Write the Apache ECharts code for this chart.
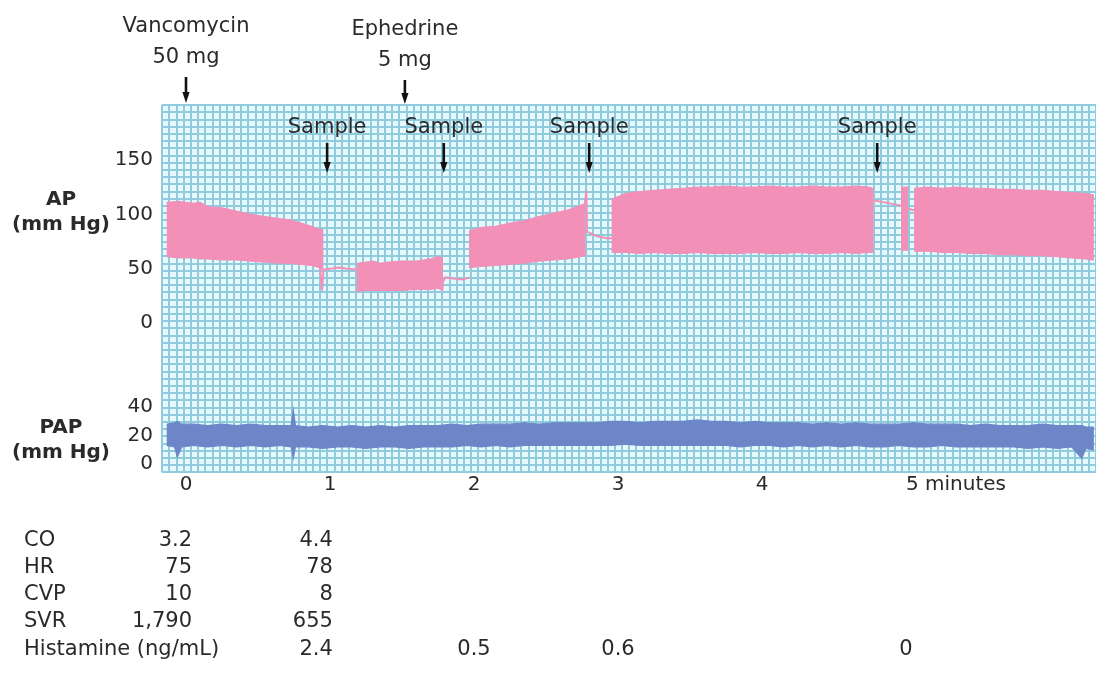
<!DOCTYPE html>
<html><head><meta charset="utf-8">
<script src="https://cdn.jsdelivr.net/npm/echarts@6/dist/echarts.min.js"></script>
<style>html,body{margin:0;padding:0;background:#fff}#c{width:1096px;height:675px}</style>
</head><body><div id="c"></div>
<script>
// ---------- DATA ----------
// Arterial pressure (AP) trace envelope segments: [minute, diastolic(low), systolic(high)]
const apSeg1 = [[-0.13,61,111],[-0.05,60,112],[0.05,60,110],[0.10,59,111],[0.15,59,107],[0.25,58,106],[0.35,58,103],[0.45,57,100],[0.55,56,98],[0.65,55,96],[0.72,55,95],[0.80,54,92],[0.87,53,89],[0.93,51,86],[0.95,49,86]];
const apSeg2 = [[1.19,29,55],[1.25,30,56],[1.30,30,57],[1.35,30,55],[1.40,30,56],[1.50,30,57],[1.60,31,57],[1.70,31,59],[1.75,32,61],[1.78,30,60]];
const apSeg3 = [[1.97,51,85],[2.05,52,88],[2.15,53,89],[2.25,54,92],[2.35,55,94],[2.45,57,98],[2.55,58,101],[2.65,59,104],[2.74,61,108],[2.77,62,110]];
const apSeg4 = [[2.96,65,114],[3.05,65,119],[3.15,64,121],[3.25,65,122],[3.35,64,123],[3.45,64,124],[3.55,65,125],[3.65,64,125],[3.75,64,126],[3.85,64,125],[3.95,65,125],[4.05,64,126],[4.15,64,125],[4.25,65,125],[4.35,64,126],[4.45,64,125],[4.55,65,125],[4.65,64,126],[4.74,65,125],[4.77,65,124]];
const apSeg5 = [[4.97,67,125],[5.01,67,125]];
const apSeg6 = [[5.06,66,124],[5.15,66,125],[5.25,65,124],[5.35,65,125],[5.45,64,124],[5.55,64,124],[5.65,63,123],[5.75,63,123],[5.85,62,122],[5.95,62,122],[6.05,61,121],[6.15,60,120],[6.25,59,119],[6.30,58,118]];
// Thin AP traces between sampling blocks: [minute, mmHg]
const apLink1 = [[0.93,52],[0.945,30],[0.955,49],[1.0,50],[1.06,51],[1.12,50],[1.19,49]];
const apLink2 = [[1.78,30],[1.785,38],[1.80,42],[1.85,41],[1.92,40],[1.97,42]];
const apLink3 = [[2.77,110],[2.78,122],[2.785,84],[2.85,80],[2.92,78],[2.96,78]];
const apLink4 = [[4.77,113],[4.85,111],[4.97,108]];
const apLink5 = [[5.01,106],[5.04,104],[5.06,104]];
// Pulmonary artery pressure (PAP) envelope: [minute, low, high]
const papTrace = [[-0.13,13,28],[-0.08,12,29],[-0.06,5,30],[-0.03,12,28],[0.05,13,28],[0.15,12,27],[0.25,13,28],[0.35,12,27],[0.45,13,28],[0.55,12,27],[0.65,13,27],[0.73,12,27],[0.745,4,38],[0.76,12,27],[0.85,12,26],[0.95,11,27],[1.05,12,26],[1.15,12,27],[1.25,11,26],[1.35,12,27],[1.45,12,26],[1.55,11,27],[1.65,12,27],[1.75,12,27],[1.85,12,28],[1.95,13,27],[2.05,12,28],[2.15,13,28],[2.25,12,28],[2.35,13,29],[2.45,13,28],[2.55,13,29],[2.65,13,29],[2.75,13,29],[2.85,13,29],[2.95,13,30],[3.05,14,30],[3.15,13,29],[3.25,13,30],[3.35,13,30],[3.45,13,30],[3.55,13,31],[3.65,13,30],[3.75,13,30],[3.85,12,29],[3.95,13,30],[4.05,13,29],[4.15,12,29],[4.25,13,29],[4.35,12,28],[4.45,13,29],[4.55,12,28],[4.65,13,29],[4.75,12,28],[4.85,12,28],[4.95,13,28],[5.05,12,29],[5.15,12,28],[5.25,13,28],[5.35,12,28],[5.45,12,27],[5.55,12,28],[5.65,12,27],[5.75,12,27],[5.85,11,27],[5.95,12,28],[6.05,11,27],[6.15,12,27],[6.22,4,27],[6.25,11,26],[6.30,10,26]];
// Ticks / labels
const xTicks = [0,1,2,3,4,5];
const xTickLabels = ['0','1','2','3','4','5 minutes'];
const apTicks = [0,50,100,150];
const papTicks = [0,20,40];
// Events
const drugNames = ['Vancomycin','Ephedrine'];
const drugDoses = ['50 mg','5 mg'];
const drugTimes = [0, 1.52];
const sampleLabel = 'Sample';
const sampleTimes = [0.98, 1.79, 2.80, 4.80];
// Table
const tableRows = ['CO','HR','CVP','SVR','Histamine (ng/mL)'];
const colBaseline = ['3.2','75','10','1,790',''];
const colAfter = ['4.4','78','8','655','2.4'];
const histamineLater = ['0.5','0.6','0'];
const histamineLaterTimes = [2, 3, 5];

// ---------- LAYOUT ----------
const FONT = 'DejaVu Sans';
const TXT = '#2a2a2a';
const PINK = '#f290b8';
const BLUE = '#6d86c8';
const X0 = 162, XW = 934;
const PX_PER_MIN = 144;
const xMin = (X0 - 186) / PX_PER_MIN;
const xMax = xMin + XW / PX_PER_MIN;

const chart = echarts.init(document.getElementById('c'), null, {renderer:'canvas'});

function band(points, idx, color) {
  return {
    type:'custom', xAxisIndex:idx, yAxisIndex:idx, data:points, silent:true, clip:true,
    encode:{x:0, y:[1,2]},
    renderItem:function(params, api){
      if (params.dataIndex !== 0) return null;
      const top = points.map(p => api.coord([p[0], p[2]]));
      const bot = points.map(p => api.coord([p[0], p[1]])).reverse();
      return {type:'polygon', shape:{points:top.concat(bot)}, style:{fill:color, stroke:color, lineWidth:1.2}};
    }
  };
}
function link(points) {
  return {type:'line', xAxisIndex:1, yAxisIndex:1, data:points, symbol:'none', silent:true,
    lineStyle:{color:PINK, width:2}};
}

const gridLine = {show:true, lineStyle:{color:'#8fcbdd', width:2}};
const option = {
  animation:false,
  backgroundColor:'#ffffff',
  grid:[
    {left:X0, top:105, width:936, height:367.2, show:true, backgroundColor:'#e6f9fd', borderWidth:0},
    {left:X0, top:116.5, width:XW, height:206.5, show:false},
    {left:X0, top:400, width:XW, height:64, show:false}
  ],
  xAxis:[
    {gridIndex:0, type:'value', min:0, max:130, interval:1, axisLine:{show:false}, axisTick:{show:false}, axisLabel:{show:false}, splitLine:gridLine},
    {gridIndex:1, type:'value', min:xMin, max:xMax, show:false},
    {gridIndex:2, type:'value', min:xMin, max:xMax, axisLine:{show:false}, axisTick:{show:false}, splitLine:{show:false},
      axisLabel:{customValues:xTicks, margin:11, color:TXT, fontFamily:FONT, fontSize:20,
        formatter:function(v){ const i = xTicks.indexOf(v); const s = xTickLabels[i];
          return i === xTicks.length-1 ? '{last|'+s+'}' : s; },
        rich:{last:{fontFamily:FONT, fontSize:20, color:TXT, padding:[0,0,0,100]}}}}
  ],
  yAxis:[
    {gridIndex:0, type:'value', min:0, max:51, interval:1, axisLine:{show:false}, axisTick:{show:false}, axisLabel:{show:false}, splitLine:gridLine},
    {gridIndex:1, type:'value', min:0, max:190, axisLine:{show:false}, axisTick:{show:false}, splitLine:{show:false},
      axisLabel:{customValues:apTicks, margin:9, color:TXT, fontFamily:FONT, fontSize:20}},
    {gridIndex:2, type:'value', min:0, max:45, axisLine:{show:false}, axisTick:{show:false}, splitLine:{show:false},
      axisLabel:{customValues:papTicks, margin:9, color:TXT, fontFamily:FONT, fontSize:20}}
  ],
  series:[
    band(apSeg1,1,PINK), band(apSeg2,1,PINK), band(apSeg3,1,PINK), band(apSeg4,1,PINK), band(apSeg5,1,PINK), band(apSeg6,1,PINK),
    link(apLink1), link(apLink2), link(apLink3), link(apLink4), link(apLink5),
    band(papTrace,2,BLUE)
  ]
};
chart.setOption(option);

// ---------- Annotations (positions from the chart's own x scale) ----------
function px(t){ return chart.convertToPixel({xAxisIndex:1}, t); }
function arrow(x, y1, y2){
  return [
    {type:'line', shape:{x1:x, y1:y1, x2:x, y2:y2-8}, style:{stroke:'#111', lineWidth:2.6}, z:100},
    {type:'polygon', shape:{points:[[x-3.6,y2-11],[x+3.6,y2-11],[x,y2]]}, style:{fill:'#111'}, z:100}
  ];
}
function text(str, x, y, align, opts){
  return Object.assign({type:'text', x:x, y:y, z:100,
    style:Object.assign({text:str, fill:TXT, font:'21px "'+FONT+'"', textAlign:align||'center', textVerticalAlign:'middle'}, opts||{})});
}
const g = [];
drugNames.forEach((n,i)=>{
  const x = px(drugTimes[i]);
  const dy = i===0 ? 0 : 3;
  g.push(text(n, x, 27+dy));
  g.push(text(drugDoses[i], x, 58+dy));
  g.push(...arrow(x, 77+dy, 103+dy*0.3));
});
sampleTimes.forEach(t=>{
  const x = px(t);
  g.push(text(sampleLabel, x, 128));
  g.push(...arrow(x, 143, 173));
});
g.push(text('AP', 61, 200, 'center', {font:'bold 20px "'+FONT+'"'}));
g.push(text('(mm Hg)', 61, 225, 'center', {font:'bold 20px "'+FONT+'"'}));
g.push(text('PAP', 61, 428, 'center', {font:'bold 20px "'+FONT+'"'}));
g.push(text('(mm Hg)', 61, 453, 'center', {font:'bold 20px "'+FONT+'"'}));
const rowY = [541, 568, 595, 622, 650];
const colBaseX = px(0.042), colAfterX = px(1.02);
tableRows.forEach((r,i)=>{
  g.push(text(r, 24, rowY[i], 'left'));
  if (colBaseline[i]) g.push(text(colBaseline[i], colBaseX, rowY[i], 'right'));
  if (colAfter[i]) g.push(text(colAfter[i], colAfterX, rowY[i], 'right'));
});
histamineLater.forEach((v,i)=>{
  g.push(text(v, px(histamineLaterTimes[i]), rowY[4], 'center'));
});
chart.setOption({graphic:{elements:g}});
</script>
</body></html>
